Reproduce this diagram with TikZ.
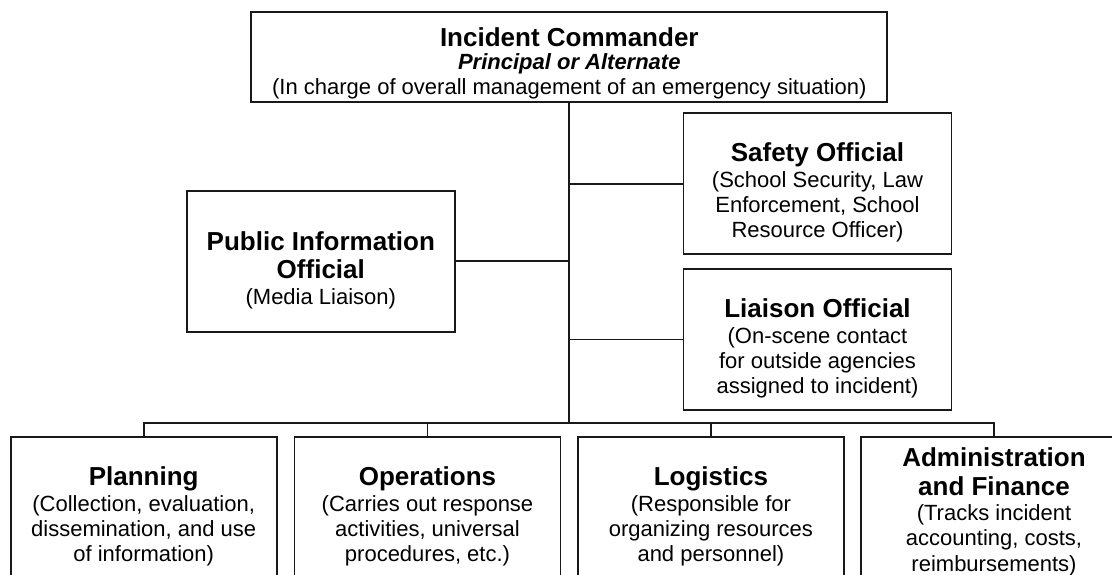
\documentclass[tikz,border=0pt]{standalone}
\usepackage{fontspec}
\setmainfont{Liberation Sans}
\usepackage{xcolor}
\definecolor{linegray}{rgb}{0.1,0.1,0.1}
\usepackage{tikz}
\usetikzlibrary{positioning, calc}

\newcommand{\boxtitle}[1]{{\fontsize{26}{30}\selectfont\bfseries #1}}
\newcommand{\boxhead}[2][37pt]{\rule{0pt}{#1}\boxtitle{#2}}

\begin{document}
\begin{tikzpicture}[
  x=1pt, y=-1pt,
  box/.style={draw=linegray, line width=1.8pt, align=center, inner sep=0pt, font=\fontsize{22}{25.3}\selectfont, text=black},
  sidebox/.style={box, minimum width=268pt, minimum height=141pt},
  unitbox/.style={box, minimum width=266pt, minimum height=142pt},
  link/.style={draw=linegray, line width=1.8pt}
]
\useasboundingbox (0,0) rectangle (1112,575);
\clip (0,0) rectangle (1112,575);
\node[box, minimum width=636pt, minimum height=90pt] (ic) at (569.3,56.7) {\boxhead[32pt]{Incident Commander}\\[-2pt] \textbf{\textit{Principal or Alternate}}\\ (In charge of overall management of an emergency situation)};
\node[sidebox] (safety) at (817.5,183.7) {\boxhead{Safety Official}\\ (School Security, Law\\ Enforcement, School\\ Resource Officer)};
\node[sidebox] (pio) at (320.8,261.2) {\boxhead{Public Information}\\[3pt] \boxtitle{Official}\\ (Media Liaison)};
\node[sidebox] (liaison) at (817.5,339.5) {\boxhead{Liaison Official}\\ (On-scene contact\\ for outside agencies\\ assigned to incident)};
\node[unitbox] (planning) at (143.7,507.7) {\boxhead{Planning}\\ (Collection, evaluation,\\ dissemination, and use\\ of information)};
\node[unitbox] (operations) at (427.5,507.7) {\boxhead{Operations}\\ (Carries out response\\ activities, universal\\ procedures, etc.)};
\node[unitbox] (logistics) at (710.9,507.7) {\boxhead{Logistics}\\ (Responsible for\\ organizing resources\\ and personnel)};
\node[unitbox] (admin) at (994,507.7) {\boxhead[27pt]{Administration}\\[3pt] \boxtitle{and Finance}\\ (Tracks incident\\ accounting, costs,\\ reimbursements)};
\coordinate (bus) at (569.3,422.7);
\draw[link] (ic.south) -- (bus);
\draw[link] (ic.south |- safety.west) -- (safety.west);
\draw[link] (pio.east) -- (pio.east -| ic.south);
\draw[link] (ic.south |- liaison.west) -- (liaison.west);
\draw[link] (planning.north) |- (bus) -| (admin.north);
\draw[link] (operations.north) -- (operations.north |- bus);
\draw[link] (logistics.north) -- (logistics.north |- bus);
\end{tikzpicture}
\end{document}
